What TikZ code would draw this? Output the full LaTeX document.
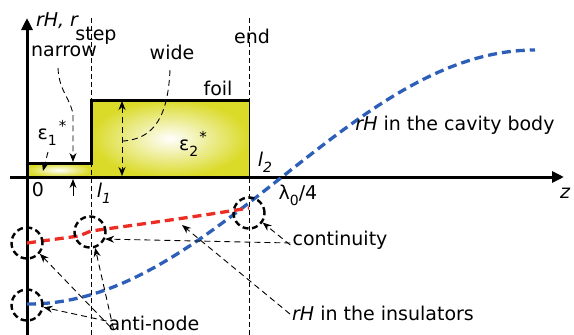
\documentclass[tikz,border=0pt]{standalone}
\usepackage{fontspec}
\setmainfont{DejaVu Sans}
\usepackage{xcolor}
\usepackage{tikz}
\usetikzlibrary{shapes,arrows,positioning,fit,calc,arrows.meta}

\definecolor{foilyellow}{RGB}{218,218,40}
\definecolor{fieldblue}{RGB}{45,95,185}
\definecolor{fieldred}{RGB}{236,45,35}

\newcommand{\lowsub}[1]{\raisebox{-6pt}{\fontsize{14}{14}\selectfont #1}}
\newcommand{\highsup}[1]{\raisebox{8pt}{\fontsize{15}{15}\selectfont #1}}

\tikzset{
    lbl/.style={font=\fontsize{19}{22}\selectfont, inner sep=0pt},
    guide/.style={dashed, line width=0.8pt, dash pattern=on 5pt off 3pt},
    pointer/.style={line width=0.9pt, dash pattern=on 6pt off 4pt, -{Stealth[length=9pt,width=7pt]}},
    ring/.style={circle, draw, line width=2.4pt, dash pattern=on 6pt off 3.5pt, minimum size=31pt, inner sep=0pt},
    field/.style={line width=3.3pt, dash pattern=on 9pt off 5pt},
}

\begin{document}
\begin{tikzpicture}[x=1pt,y=-1pt]
    \useasboundingbox (0,0) rectangle (574,335);
    % Dielectrique
    \shade[inner color=white, outer color=foilyellow] (27,163) rectangle (91,177);
    \shade[inner color=white, outer color=foilyellow] (91,100) rectangle (249,177);
    \draw[line width=3pt] (27,163) -- (91,163) -- (91,100) -- (249,100);
    \draw[line width=0.8pt] (249,100) -- (249,177);
    % Axes
    \draw[guide] (91,18) -- (91,335);
    \draw[guide] (249,18) -- (249,335);
    \draw[line width=3pt, -{Triangle[length=12pt,width=11pt]}] (27,335) -- (27,18);
    \draw[line width=3pt, -{Triangle[length=12pt,width=11pt]}] (10,177) -- (564,177);
    % Champs
    \draw[field, fieldblue, domain=27:535, samples=70] plot (\x, {177-127*sin((\x-282)/253*90)});
    \draw[field, fieldred] (27,243) -- (79,236) -- (91,231) .. controls (150,223) and (200,216) .. (249,208);
    \coordinate (redpt) at (182,225);
    % Cercles
    \node[ring] (ringA) at (27,243) {};
    \node[ring] (ringB) at (90,232) {};
    \node[ring] (ringC) at (27,305) {};
    \node[ring] (ringD) at (249,213) {};
    % Etiquettes
    \node[lbl] (axis) at (57,21) {\itshape rH, r};
    \node[lbl] (step) at (96,36) {step};
    \node[lbl] (narrow) at (64,51) {narrow};
    \node[lbl] (wide) at (172,52) {wide};
    \node[lbl] (end) at (252,36) {end};
    \node[lbl] (foil) at (218,88) {foil};
    \node[lbl] (epsA) at (52,133) {ε\lowsub{1}\hspace{2pt}\highsup{*}};
    \node[lbl] (epsB) at (193,144) {ε\lowsub{2}\hspace{1pt}\highsup{*}};
    \node[lbl] (zero) at (38,190) {0};
    \node[lbl] (lA) at (104,193) {\itshape l\lowsub{1}};
    \node[lbl] (lB) at (265,162) {\itshape l\lowsub{2}};
    \node[lbl] (lambda) at (298,195) {λ\lowsub{0}/4};
    \node[lbl] (zlab) at (565,193) {\itshape z};
    \node[lbl] (cavity) at (455,125) {\textit{rH} in the cavity body};
    \node[lbl] (contin) at (340,240) {continuity};
    \node[lbl] (insul) at (383,313) {\textit{rH} in the insulators};
    \node[lbl] (anti) at (154,323) {anti-node};
    % Cotes
    \draw[pointer] (58,68) .. controls (59,92) and (72,100) .. (73,116) -- (73,162);
    \draw[line width=0.9pt, -{Stealth[length=9pt,width=7pt]}] (73,196) -- (73,179);
    \draw[pointer] (48,152) -- (43,171);
    \draw[line width=0.9pt, dash pattern=on 6pt off 4pt, {Stealth[length=9pt,width=7pt]}-{Stealth[length=9pt,width=7pt]}] (122,101) -- (122,176);
    \draw[line width=0.9pt, dash pattern=on 6pt off 4pt] (170,70) .. controls (168,115) and (155,139) .. (123,141);
    % Renvois
    \draw[pointer] ([xshift=-2pt,yshift=-5pt]contin.west) -- (ringD.-35);
    \draw[pointer] ([xshift=-2pt,yshift=-3pt]contin.west) -- (ringB.-25);
    \draw[pointer] ([xshift=-2pt,yshift=-1pt]insul.west) -- (redpt);
    \draw[pointer] ([xshift=2pt,yshift=-4pt]anti.west) -- (ringA.-40);
    \draw[pointer] ([xshift=5pt,yshift=-6pt]anti.west) -- (ringB.-72);
    \draw[pointer] ([xshift=-2pt,yshift=2pt]anti.west) -- (ringC.-8);
\end{tikzpicture}
\end{document}
